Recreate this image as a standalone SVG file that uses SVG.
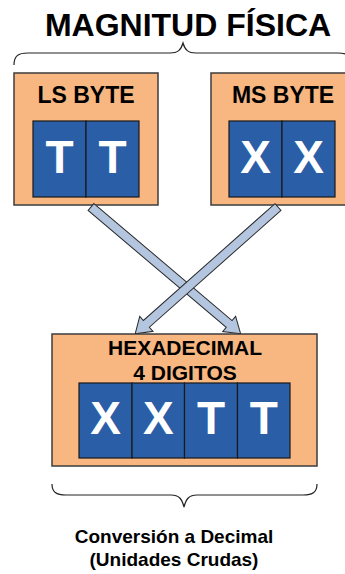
<svg xmlns="http://www.w3.org/2000/svg" width="345" height="574" viewBox="0 0 345 574">
  <style>
    .box { fill: #f8b680; stroke: #3c3c3c; stroke-width: 1.5; }
    .cell { fill: #2a5ea6; stroke: #1a1a1a; stroke-width: 1.2; }
    .digit { font-family: "Liberation Sans", Arial, sans-serif; font-weight: bold; font-size: 46px; fill: #ffffff; text-anchor: middle; }
    .label { font-family: "Liberation Sans", Arial, sans-serif; font-weight: bold; fill: #000000; text-anchor: middle; }
    .brace { fill: none; stroke: #222222; stroke-width: 1.2; }
    .arrow { fill: #b4c6df; stroke: #2a2a2a; stroke-width: 1; stroke-linejoin: miter; }
  </style>
  <defs>
    <!-- block arrow pointing along +x; length set per use by the head offset -->
    <polygon id="arrow-196" points="0,-4.5 181,-4.5 181,-10 196,0 181,10 181,4.5 0,4.5"/>
    <polygon id="arrow-191" points="0,-4.5 176,-4.5 176,-10 191,0 176,10 176,4.5 0,4.5"/>
  </defs>

  <rect width="345" height="574" fill="#ffffff"/>

  <!-- title and its brace -->
  <g id="title">
    <text class="label" x="188" y="36" font-size="32">MAGNITUD FÍSICA</text>
    <path class="brace" d="M14,65 C14,56 18,53 28,53 L170,53 C178,53 181,50 183,43 C185,50 188,53 196,53 L338,53 C348,53 352,56 352,65"/>
  </g>

  <!-- low byte -->
  <g id="ls-byte">
    <rect class="box" x="14" y="73" width="144" height="132"/>
    <text class="label" x="86" y="103" font-size="23">LS BYTE</text>
    <rect class="cell" x="33" y="121" width="53" height="76"/>
    <rect class="cell" x="86" y="121" width="53" height="76"/>
    <text class="digit" x="59.5" y="173">T</text>
    <text class="digit" x="112.5" y="173">T</text>
  </g>

  <!-- high byte -->
  <g id="ms-byte">
    <rect class="box" x="211" y="73" width="144" height="132"/>
    <text class="label" x="283" y="103" font-size="23">MS BYTE</text>
    <rect class="cell" x="229" y="121" width="53" height="76"/>
    <rect class="cell" x="282" y="121" width="53" height="76"/>
    <text class="digit" x="255.5" y="173">X</text>
    <text class="digit" x="308.5" y="173">X</text>
  </g>

  <!-- crossing connectors -->
  <g id="connectors">
    <use href="#arrow-196" class="arrow" transform="translate(91,207) rotate(40.25)"/>
    <use href="#arrow-191" class="arrow" transform="translate(278,207) rotate(138.4)"/>
  </g>

  <!-- combined 16-bit value -->
  <g id="hex-value">
    <rect class="box" x="52" y="334" width="265" height="132"/>
    <text class="label" x="185" y="355" font-size="21">HEXADECIMAL</text>
    <text class="label" x="185" y="380" font-size="21">4 DIGITOS</text>
    <rect class="cell" x="79" y="383" width="53" height="75"/>
    <rect class="cell" x="132" y="383" width="52.5" height="75"/>
    <rect class="cell" x="184.5" y="383" width="53" height="75"/>
    <rect class="cell" x="237.5" y="383" width="52.5" height="75"/>
    <text class="digit" x="105.5" y="434">X</text>
    <text class="digit" x="158.3" y="434">X</text>
    <text class="digit" x="211" y="434">T</text>
    <text class="digit" x="263.8" y="434">T</text>
  </g>

  <!-- result brace and caption -->
  <g id="result">
    <path class="brace" d="M52,484 C52,492 56,495 66,495 L171,495 C179,495 182,499 184,507 C186,499 189,495 197,495 L303,495 C313,495 317,492 317,484"/>
    <text class="label" x="174" y="543" font-size="19">Conversión a Decimal</text>
    <text class="label" x="174" y="566" font-size="19">(Unidades Crudas)</text>
  </g>
</svg>
